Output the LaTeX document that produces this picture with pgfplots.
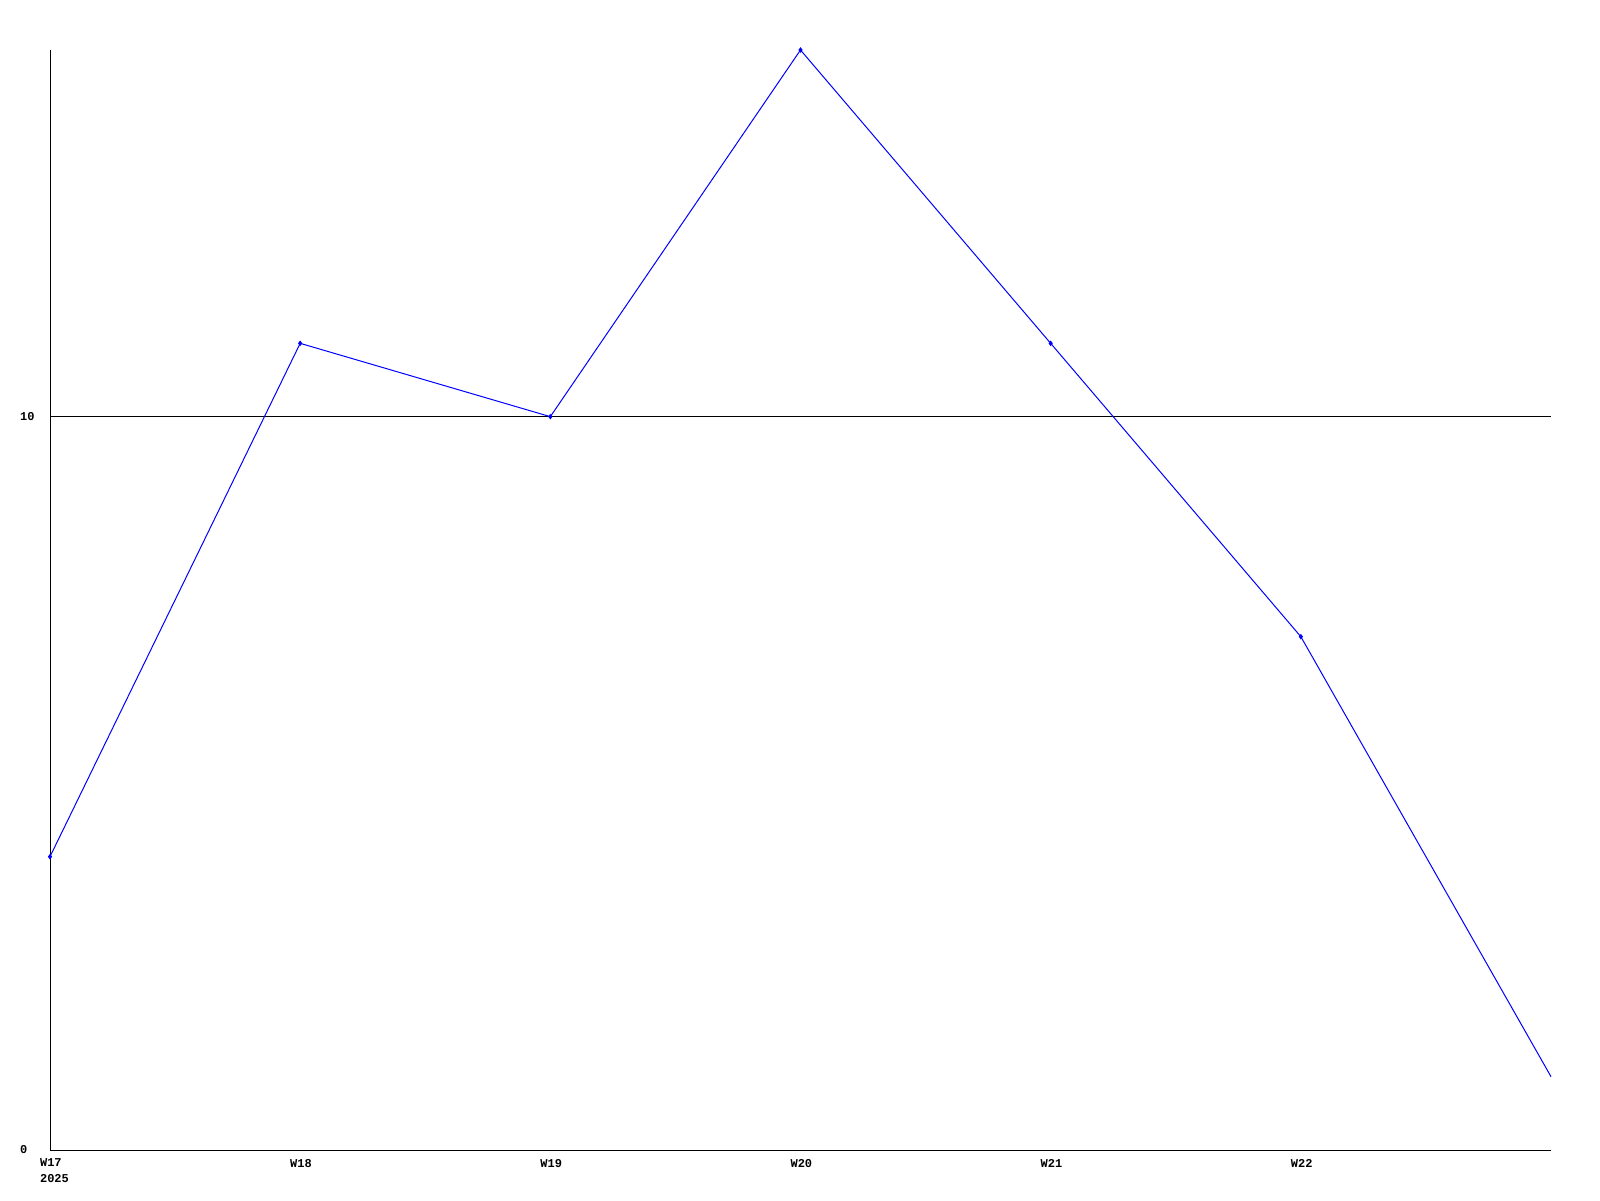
\documentclass[border=0pt]{standalone}
\usepackage{pgfplots}
\pgfplotsset{compat=1.18}
\usepackage{fontspec}
\setmainfont{Liberation Mono}
\begin{document}
\begin{tikzpicture}
\useasboundingbox (0,0) rectangle (800pt,600pt);
\begin{axis}[
  at={(25pt,25pt)}, anchor=south west,
  scale only axis, width=750.5pt, height=550pt,
  xmin=0, xmax=6, ymin=0, ymax=15,
  axis x line*=bottom, axis y line*=left,
  axis line style={-, black, line width=0.5pt},
  xtick={0,1,2,3,4,5},
  xticklabels={{W17\\2025},W18,W19,W20,W21,W22},
  ytick={0,10},
  ymajorgrids, grid style={black, line width=0.5pt},
  major tick length=0pt,
  tick label style={font=\fontsize{6}{8}\selectfont\bfseries},
  xticklabel style={align=left, anchor=north west, xshift=-8.5pt, yshift=-1pt},
  yticklabel style={anchor=west, xshift=-18.5pt},
  /pgf/number format/assume math mode=true,
  clip=false,
]
\addplot[blue, line width=0.5pt, mark=diamond*, mark size=1pt, mark options={blue}, mark indices={1,2,3,4,5,6}]
  coordinates {(0,4) (1,11) (2,10) (3,15) (4,11) (5,7) (6,1)};
\end{axis}
\end{tikzpicture}
\end{document}
